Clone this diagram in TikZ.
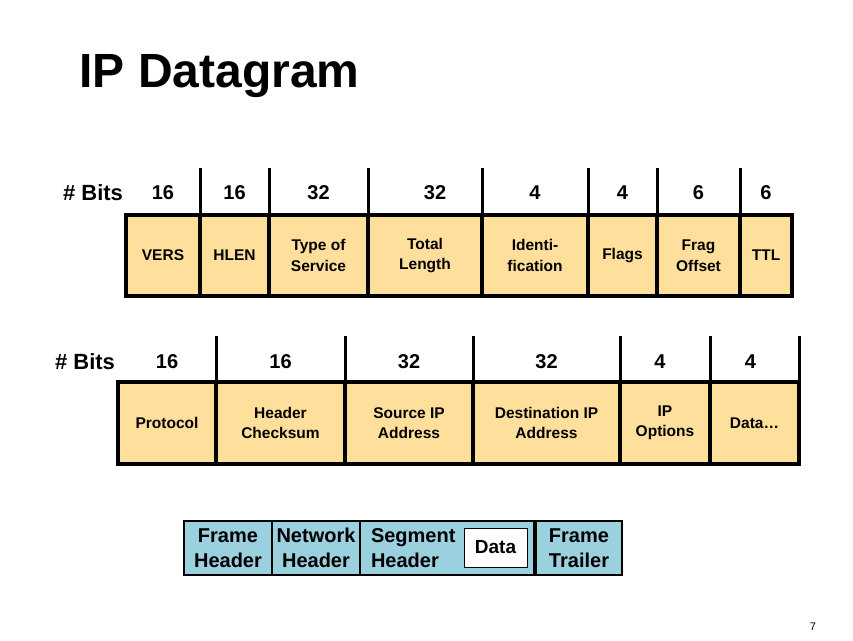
\documentclass[tikz,border=0pt]{standalone}
\usepackage{fontspec}
\setmainfont{Liberation Sans}
\usetikzlibrary{positioning}
\definecolor{fieldcol}{RGB}{255,223,155}
\definecolor{framecol}{RGB}{155,208,222}

\begin{document}
\begin{tikzpicture}[x=1pt, y=-1pt, node distance=0pt,
	field/.style={draw, line width=4pt, fill=fieldcol, minimum height=81pt, outer sep=0pt, inner sep=2pt, align=center, font=\fontsize{15.5}{20.5}\selectfont\bfseries},
	bits/.style={font=\fontsize{20}{24}\selectfont\bfseries},
	tick/.style={line width=3pt},
	frm/.style={draw, line width=1.2pt, fill=framecol, minimum height=54pt, outer sep=0pt, inner sep=0pt, align=center, font=\fontsize{20}{25}\selectfont\bfseries}]
	\useasboundingbox (0,0) rectangle (853,640);
	\node[anchor=base west, font=\fontsize{48}{56}\selectfont\bfseries] (title) at (76,87) {IP Datagram};
	\node[field, minimum width=74pt, anchor=west] (vers) at (126,255.5) {VERS};
	\node[field, minimum width=69pt, right=of vers] (hlen) {HLEN};
	\node[field, minimum width=99pt, right=of hlen] (tos) {Type of\\Service};
	\node[field, minimum width=114pt, right=of tos] (len) {Total\\Length};
	\node[field, minimum width=106pt, right=of len] (ident) {Identi-\\fication};
	\node[field, minimum width=69pt, right=of ident] (flags) {Flags};
	\node[field, minimum width=83pt, right=of flags] (frag) {Frag\\Offset};
	\node[field, minimum width=52pt, right=of frag] (ttl) {TTL};
	\draw[tick] (vers.north east) -- ([yshift=47pt]vers.north east);
	\draw[tick] (hlen.north east) -- ([yshift=47pt]hlen.north east);
	\draw[tick] (tos.north east) -- ([yshift=47pt]tos.north east);
	\draw[tick] (len.north east) -- ([yshift=47pt]len.north east);
	\draw[tick] (ident.north east) -- ([yshift=47pt]ident.north east);
	\draw[tick] (flags.north east) -- ([yshift=47pt]flags.north east);
	\draw[tick] (frag.north east) -- ([yshift=47pt]frag.north east);
	\node[bits, font=\fontsize{22}{26}\selectfont\bfseries] (bitsA) at (93,193) {\# Bits};
	\node[bits] (nvers) at ([yshift=22pt]vers.north) {16};
	\node[bits] (nhlen) at ([yshift=22pt]hlen.north) {16};
	\node[bits] (ntos) at ([yshift=22pt]tos.north) {32};
	\node[bits] (nlen) at ([yshift=22pt, xshift=10pt]len.north) {32};
	\node[bits] (nident) at ([yshift=22pt]ident.north) {4};
	\node[bits] (nflags) at ([yshift=22pt]flags.north) {4};
	\node[bits] (nfrag) at ([yshift=22pt]frag.north) {6};
	\node[bits] (nttl) at ([yshift=22pt]ttl.north) {6};
	\node[field, minimum width=98pt, minimum height=82pt, anchor=west] (proto) at (118,423) {Protocol};
	\node[field, minimum width=129pt, minimum height=82pt, right=of proto] (cksum) {Header\\Checksum};
	\node[field, minimum width=128pt, minimum height=82pt, right=of cksum] (src) {Source IP\\Address};
	\node[field, minimum width=147pt, minimum height=82pt, right=of src] (dst) {Destination IP\\Address};
	\node[field, minimum width=90pt, minimum height=82pt, right=of dst] (opt) {IP\\Options};
	\node[field, minimum width=89pt, minimum height=82pt, right=of opt] (data) {Data\dots};
	\draw[tick] (proto.north east) -- ([yshift=46pt]proto.north east);
	\draw[tick] (cksum.north east) -- ([yshift=46pt]cksum.north east);
	\draw[tick] (src.north east) -- ([yshift=46pt]src.north east);
	\draw[tick] (dst.north east) -- ([yshift=46pt]dst.north east);
	\draw[tick] (opt.north east) -- ([yshift=46pt]opt.north east);
	\draw[tick] (data.north east) -- ([yshift=46pt]data.north east);
	\node[bits, font=\fontsize{22}{26}\selectfont\bfseries] (bitsB) at (85,362) {\# Bits};
	\node[bits] (nproto) at ([yshift=20pt]proto.north) {16};
	\node[bits] (ncksum) at ([yshift=20pt]cksum.north) {16};
	\node[bits] (nsrc) at ([yshift=20pt]src.north) {32};
	\node[bits] (ndst) at ([yshift=20pt]dst.north) {32};
	\node[bits] (nopt) at ([yshift=20pt, xshift=-5pt]opt.north) {4};
	\node[bits] (ndata) at ([yshift=20pt, xshift=-4pt]data.north) {4};
	\node[frm, minimum width=88pt, anchor=west] (fhdr) at (184,548) {Frame\\Header};
	\node[frm, minimum width=88pt, right=of fhdr] (nhdr) {Network\\Header};
	\node[frm, minimum width=174pt, text width=152pt, inner xsep=11pt, align=left, right=of nhdr] (shdr) {Segment\\Header};
	\node[frm, minimum width=86pt, right=2pt of shdr] (ftrl) {Frame\\Trailer};
	\node[draw, line width=0.8pt, fill=white, minimum width=63pt, minimum height=39pt, font=\fontsize{19}{23}\selectfont\bfseries] (dat) at (495.5,547.5) {Data};
	\node[font=\fontsize{11}{13}\selectfont] (pg) at (813,627) {7};
\end{tikzpicture}
\end{document}
